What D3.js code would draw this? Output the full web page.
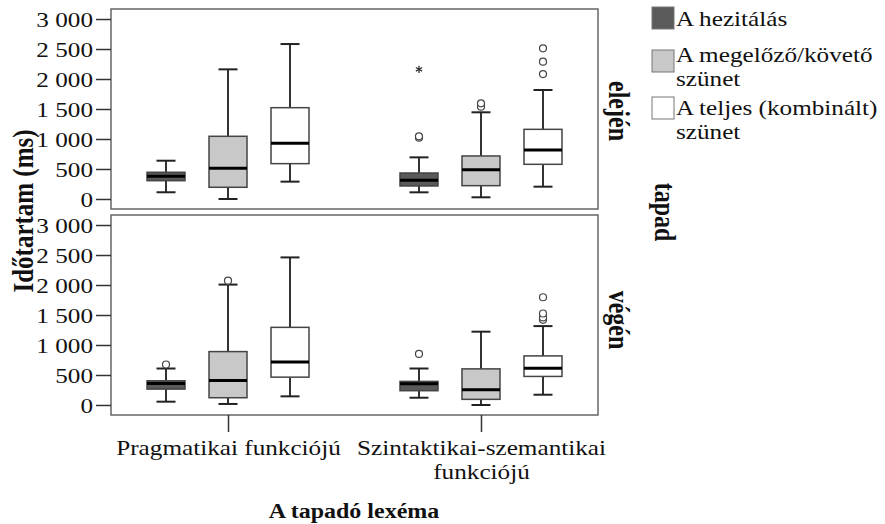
<!DOCTYPE html>
<html>
<head>
<meta charset="utf-8">
<script src="https://cdn.jsdelivr.net/npm/d3@7"></script>
<style>
  body { margin: 0; background: #fff; }
  svg text { font-family: 'Liberation Serif', Tinos, 'Times New Roman', 'DejaVu Serif', serif; fill: #111; }
</style>
</head>
<body>
<div id="chart"></div>
<script>
// categories, series, panels
const categories = ['Pragmatikai funkciójú', 'Szintaktikai-szemantikai funkciójú'];
const series = ['A hezitálás', 'A megelőző/követő szünet', 'A teljes (kombinált) szünet'];
const panels = ['elején', 'végén'];
const yTicks = [0, 500, 1000, 1500, 2000, 2500, 3000];

// box stats [min, q1, median, q3, max], one per category
const elejenHezitalas = [[112, 305, 378, 445, 638], [111, 217, 311, 433, 694]];
const elejenMegelozo  = [[0, 195, 511, 1045, 2161], [28, 222, 489, 717, 1445]];
const elejenTeljes    = [[289, 589, 928, 1522, 2583], [205, 578, 817, 1161, 1817]];
const vegenHezitalas  = [[55, 265, 360, 403, 608], [121, 238, 353, 393, 608]];
const vegenMegelozo   = [[17, 121, 409, 890, 2007], [0, 94, 254, 602, 1222]];
const vegenTeljes     = [[144, 464, 718, 1294, 2460], [171, 476, 614, 818, 1315]];

// outliers (circles) and extremes (stars), one list per category
const elejenHezitalasOut = [[], [1022, 1045]];
const elejenHezitalasExt = [[], [2161]];
const elejenMegelozoOut  = [[], [1539, 1595]];
const elejenTeljesOut    = [[], [2083, 2289, 2511]];
const vegenHezitalasOut  = [[675], [851]];
const vegenMegelozoOut   = [[2073], []];
const vegenTeljesOut     = [[], [1420, 1460, 1525, 1796]];

const panelData = [
  { name: panels[0], boxes: [elejenHezitalas, elejenMegelozo, elejenTeljes],
    out: [elejenHezitalasOut, elejenMegelozoOut, elejenTeljesOut],
    ext: [elejenHezitalasExt, [[], []], [[], []]] },
  { name: panels[1], boxes: [vegenHezitalas, vegenMegelozo, vegenTeljes],
    out: [vegenHezitalasOut, vegenMegelozoOut, vegenTeljesOut],
    ext: [[[], []], [[], []], [[], []]] }
];

const fills = ['#5a5a5a', '#c8c8c8', '#ffffff'];
const sx = 1.2; // the source picture is stretched horizontally
const serif = "'Liberation Serif', Tinos, 'Times New Roman', 'DejaVu Serif', serif";

const width = 885, height = 524;
const left = 111, right = 598;
const panelTops = [9, 215];
const panelH = 200;
const boxW = 38;

const svg = d3.select('#chart')
  .append('svg')
  .attr('width', width)
  .attr('height', height)
  .attr('font-family', serif);

const fmt = d3.formatLocale({ decimal: ',', thousands: ' ', grouping: [3], currency: ['', ''] }).format(',');

const x = d3.scalePoint()
  .domain(categories)
  .range([left, right])
  .padding(0.4625);

const xSub = d3.scalePoint()
  .domain(series)
  .range([-62, 62]);

panelData.forEach((p, pi) => {
  const top = panelTops[pi];
  const y = d3.scaleLinear()
    .domain([-167, 3167])
    .range([top + panelH, top]);

  const g = svg.append('g');

  g.append('rect')
    .attr('x', left)
    .attr('y', top)
    .attr('width', right - left)
    .attr('height', panelH)
    .attr('fill', '#fff')
    .attr('stroke', '#666')
    .attr('stroke-width', 1.5);

  // y axis
  const yAxis = g.append('g')
    .attr('transform', `translate(${left},0)`)
    .call(d3.axisLeft(y).tickValues(yTicks).tickSize(15).tickPadding(3).tickFormat(fmt))
    .attr('font-family', serif);
  yAxis.select('.domain').remove();
  yAxis.selectAll('line').attr('stroke', '#333').attr('stroke-width', 1.5);
  yAxis.selectAll('text')
    .attr('font-size', 21)
    .attr('fill', '#111')
    .attr('x', -18 / sx)
    .attr('dy', '0.34em')
    .attr('transform', `scale(${sx},1)`);

  // boxes
  categories.forEach((c, ci) => {
    series.forEach((s, si) => {
      const [mn, q1, md, q3, mx] = p.boxes[si][ci];
      const cx = x(c) + xSub(s);
      const bg = g.append('g');
      bg.append('line')
        .attr('x1', cx).attr('x2', cx)
        .attr('y1', y(mx)).attr('y2', y(q3))
        .attr('stroke', '#333').attr('stroke-width', 2);
      bg.append('line')
        .attr('x1', cx).attr('x2', cx)
        .attr('y1', y(q1)).attr('y2', y(mn))
        .attr('stroke', '#333').attr('stroke-width', 2);
      [mn, mx].forEach(v => {
        bg.append('line')
          .attr('x1', cx - boxW / 4).attr('x2', cx + boxW / 4)
          .attr('y1', y(v)).attr('y2', y(v))
          .attr('stroke', '#222').attr('stroke-width', 2);
      });
      bg.append('rect')
        .attr('x', cx - boxW / 2)
        .attr('y', y(q3))
        .attr('width', boxW)
        .attr('height', y(q1) - y(q3))
        .attr('fill', fills[si])
        .attr('stroke', '#444')
        .attr('stroke-width', 1.5);
      bg.append('line')
        .attr('x1', cx - boxW / 2).attr('x2', cx + boxW / 2)
        .attr('y1', y(md)).attr('y2', y(md))
        .attr('stroke', '#000').attr('stroke-width', 3);

      p.out[si][ci].forEach(v => {
        bg.append('circle')
          .attr('cx', cx).attr('cy', y(v)).attr('r', 3.5)
          .attr('fill', '#fff').attr('stroke', '#444').attr('stroke-width', 1.2);
      });
      p.ext[si][ci].forEach(v => {
        bg.append('path')
          .attr('d', d3.symbol(d3.symbolAsterisk, 36)())
          .attr('transform', `translate(${cx},${y(v)})`)
          .attr('fill', 'none').attr('stroke', '#333').attr('stroke-width', 1.3);
      });
    });
  });

  // facet label
  svg.append('text')
    .attr('transform', `translate(609,${top + panelH / 2 + 2 + pi * 3}) scale(${sx},1) rotate(90)`)
    .attr('text-anchor', 'middle')
    .attr('font-size', 24)
    .attr('font-weight', 'bold')
    .text(p.name);
});

// x axis under bottom panel
const xAxis = svg.append('g')
  .attr('transform', `translate(0,${panelTops[1] + panelH})`)
  .call(d3.axisBottom(x).tickSize(17).tickFormat(''))
  .attr('font-family', serif);
xAxis.select('.domain').remove();
xAxis.selectAll('line').attr('stroke', '#333').attr('stroke-width', 1.5);
xAxis.selectAll('.tick').each(function (d) {
  const words = d === categories[0] ? [d] : ['Szintaktikai-szemantikai', 'funkciójú'];
  const t = d3.select(this).append('text')
    .attr('transform', `translate(0,40) scale(${sx},1)`)
    .attr('text-anchor', 'middle')
    .attr('font-size', 21)
    .attr('fill', '#111');
  words.forEach((w, i) => {
    t.append('tspan').attr('x', 0).attr('y', i * 24).text(w);
  });
});

// axis titles
svg.append('text')
  .attr('transform', `translate(354,518) scale(${sx},1)`)
  .attr('text-anchor', 'middle')
  .attr('font-size', 20)
  .attr('font-weight', 'bold')
  .text('A tapadó lexéma');

svg.append('text')
  .attr('transform', `translate(33,211) scale(${sx},1) rotate(-90)`)
  .attr('text-anchor', 'middle')
  .attr('font-size', 25)
  .attr('font-weight', 'bold')
  .text('Időtartam (ms)');

svg.append('text')
  .attr('transform', `translate(655,212) scale(${sx},1) rotate(90)`)
  .attr('text-anchor', 'middle')
  .attr('font-size', 24)
  .attr('font-weight', 'bold')
  .text('tapad');

// legend
const legendTops = [7, 50, 97];
const legendLines = [['A hezitálás'], ['A megelőző/követő', 'szünet'], ['A teljes (kombinált)', 'szünet']];
const legendBase = [[26], [62, 86], [115, 139]];
series.forEach((s, i) => {
  svg.append('rect')
    .attr('x', 652)
    .attr('y', legendTops[i])
    .attr('width', 22)
    .attr('height', 22)
    .attr('fill', fills[i])
    .attr('stroke', '#777')
    .attr('stroke-width', 1);
  legendLines[i].forEach((line, li) => {
    svg.append('text')
      .attr('transform', `translate(676,${legendBase[i][li]}) scale(${sx},1)`)
      .attr('font-size', 21)
      .text(line);
  });
});
</script>
</body>
</html>
